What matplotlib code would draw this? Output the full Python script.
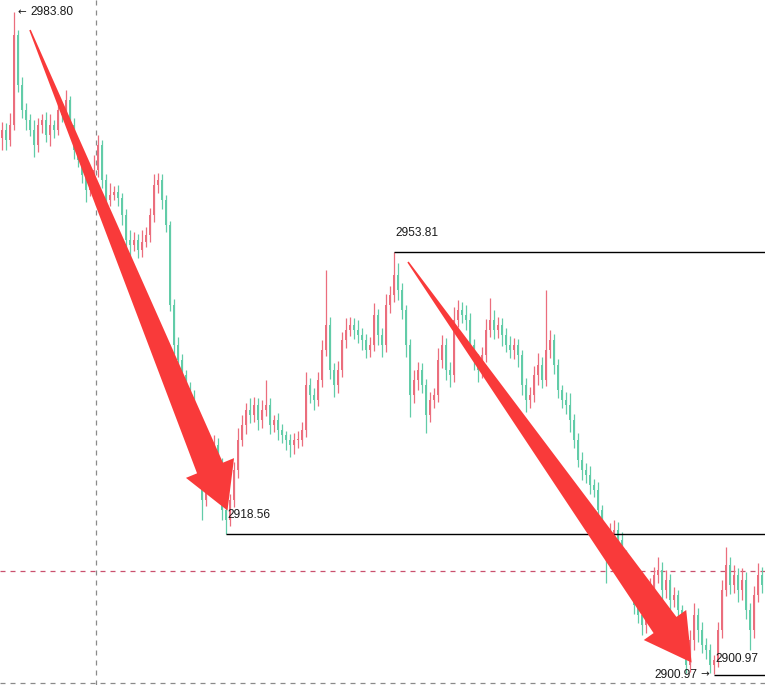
import numpy as np
import matplotlib
matplotlib.use("Agg")
import matplotlib.pyplot as plt
from matplotlib.patches import Polygon
from matplotlib.transforms import Affine2D

# close prices, one per candle (left to right)
closes = [
    2969.1, 2967.8, 2969.7, 2980.9, 2974.7, 2971.6, 2970.3, 2969.1, 2967.2, 2969.7,
    2970.3, 2968.4, 2969.7, 2969.1, 2971.6, 2970.9, 2972.8, 2969.7, 2966.6, 2965.3,
    2963.4, 2961.6, 2962.2, 2964.1, 2967.2, 2962.8, 2960.3, 2960.9, 2961.3, 2960.6,
    2958.4, 2955.3, 2954.7, 2955.3, 2954.1, 2955.1, 2955.9, 2958.4, 2962.2, 2962.8,
    2960.3, 2957.2, 2947.2, 2942.2, 2940.3, 2938.4, 2936.6, 2935.3, 2932.8, 2930.3,
    2922.8, 2925.3, 2927.8, 2929.7, 2927.2, 2921.6, 2920.3, 2922.8, 2926.6, 2930.3,
    2932.2, 2934.1, 2933.4, 2934.7, 2932.8, 2934.1, 2934.7, 2932.2, 2932.8, 2931.6,
    2930.9, 2930.3, 2929.7, 2930.3, 2930.3, 2931.6, 2937.2, 2935.9, 2935.3, 2937.8,
    2941.6, 2944.7, 2939.1, 2937.2, 2939.1, 2942.8, 2944.1, 2944.7, 2944.1, 2943.4,
    2942.8, 2941.6, 2942.2, 2945.9, 2943.4, 2942.2, 2947.2, 2948.4, 2950.9, 2949.1,
    2946.6, 2942.2, 2935.9, 2937.8, 2939.1, 2937.2, 2933.4, 2935.3, 2935.9, 2940.3,
    2942.2, 2939.1, 2938.4, 2945.3, 2946.6, 2945.9, 2945.3, 2942.2, 2940.3, 2939.1,
    2940.9, 2944.1, 2945.3, 2944.1, 2944.7, 2943.4, 2942.2, 2941.6, 2942.2, 2940.9,
    2937.2, 2935.3, 2935.9, 2938.4, 2939.7, 2937.8, 2941.6, 2942.8, 2939.7, 2936.6,
    2935.3, 2934.7, 2932.8, 2930.3, 2927.8, 2926.6, 2925.9, 2924.7, 2924.1, 2921.6,
    2917.2, 2915.3, 2918.4, 2919.1, 2917.8, 2915.9, 2913.4, 2911.6, 2909.7, 2908.4,
    2907.2, 2909.7, 2911.6, 2913.4, 2914.1, 2911.6, 2912.8, 2910.3, 2910.9, 2909.1,
    2905.3, 2902.2, 2905.3, 2908.4, 2906.6, 2904.7, 2904.1, 2902.2, 2902.8, 2906.6,
    2911.6, 2914.7, 2912.2, 2913.4, 2911.6, 2912.8, 2909.1, 2906.6, 2910.9, 2913.4,
    2912.2,
]
first_open = 2968.0

# wick lengths above / below the body
upper_wick = [
    1.0, 0.8, 1.5, 2.9, 0.6, 1.0, 0.8, 0.7, 1.2, 0.9,
    0.8, 1.0, 1.4, 0.6, 1.5, 0.7, 1.2, 0.5, 0.8, 0.6,
    0.9, 0.7, 1.0, 1.8, 1.2, 0.6, 0.8, 1.5, 0.7, 0.9,
    0.6, 0.8, 1.2, 1.0, 0.7, 1.4, 1.0, 0.9, 1.3, 0.9,
    0.8, 0.6, 0.5, 0.7, 1.0, 0.8, 0.6, 0.9, 1.2, 0.8,
    0.6, 1.0, 1.5, 1.2, 0.8, 0.9, 0.5, 0.8, 1.0, 1.5,
    1.2, 0.8, 1.5, 1.0, 0.9, 1.2, 3.1, 0.8, 0.6, 0.9,
    0.7, 0.5, 0.8, 0.9, 1.1, 1.0, 1.6, 0.8, 0.9, 1.0,
    1.2, 6.9, 1.0, 0.8, 1.1, 1.0, 1.4, 1.0, 0.8, 1.2,
    0.9, 0.7, 1.0, 1.5, 0.8, 0.9, 1.3, 1.2, 2.9, 1.5,
    0.8, 0.6, 0.7, 1.2, 1.0, 0.8, 0.7, 1.0, 0.9, 1.5,
    1.2, 0.8, 0.9, 1.6, 1.2, 1.0, 1.3, 0.9, 0.7, 0.8,
    1.0, 1.3, 2.7, 1.2, 1.0, 0.8, 0.9, 1.1, 0.8, 0.7,
    0.6, 0.8, 1.0, 1.2, 1.5, 1.0, 7.5, 1.2, 0.8, 0.7,
    0.6, 1.0, 1.5, 0.8, 0.9, 1.0, 0.8, 1.2, 0.7, 0.9,
    0.6, 0.8, 1.5, 1.2, 0.9, 1.0, 0.7, 0.8, 1.0, 0.6,
    0.8, 1.2, 1.5, 1.0, 1.6, 0.9, 1.2, 0.8, 1.0, 0.7,
    0.6, 0.8, 1.2, 1.5, 0.9, 1.0, 0.8, 0.7, 0.6, 1.0,
    1.2, 2.2, 1.0, 1.3, 0.9, 1.5, 1.0, 0.8, 1.2, 1.5,
    1.0,
]
lower_wick = [
    1.5, 1.2, 0.8, 0.6, 0.9, 1.0, 1.2, 0.8, 1.5, 0.9,
    1.0, 0.8, 1.3, 1.0, 0.7, 0.9, 0.8, 1.0, 1.2, 0.9,
    1.0, 1.5, 0.8, 0.7, 0.9, 1.0, 1.4, 0.8, 0.6, 1.0,
    1.2, 1.0, 1.5, 0.8, 1.0, 0.9, 0.7, 0.8, 0.9, 1.0,
    1.1, 0.9, 0.8, 1.2, 1.0, 0.9, 1.3, 1.0, 1.5, 1.2,
    2.5, 0.8, 0.9, 1.0, 1.2, 1.3, 1.7, 0.8, 0.9, 1.0,
    0.8, 1.2, 1.0, 0.9, 1.2, 1.0, 0.8, 1.1, 0.9, 1.3,
    1.0, 1.2, 1.5, 1.1, 1.0, 0.8, 0.9, 1.0, 1.3, 0.8,
    0.9, 0.8, 1.2, 1.5, 1.0, 0.9, 1.0, 0.8, 1.2, 1.0,
    1.3, 1.0, 0.9, 0.8, 1.2, 1.5, 0.9, 1.0, 0.8, 1.3,
    1.2, 1.5, 2.7, 1.0, 1.2, 1.0, 2.2, 0.9, 1.0, 0.8,
    1.0, 1.3, 1.5, 0.8, 0.9, 1.0, 1.2, 1.0, 1.3, 1.5,
    1.0, 0.8, 0.9, 1.2, 1.0, 1.3, 0.9, 1.0, 1.2, 1.5,
    1.3, 1.5, 1.0, 0.9, 1.2, 1.0, 0.8, 1.0, 1.2, 1.1,
    1.0, 1.2, 1.5, 1.0, 0.9, 1.3, 1.0, 1.2, 0.9, 1.5,
    1.2, 2.9, 1.0, 0.9, 1.2, 1.5, 1.0, 0.8, 1.2, 1.0,
    1.3, 1.0, 0.9, 1.2, 1.0, 1.5, 1.0, 1.2, 0.9, 1.3,
    1.2, 1.0, 0.9, 1.2, 1.5, 1.0, 1.2, 1.0, 1.2, 0.9,
    1.0, 0.8, 1.2, 1.0, 1.5, 1.3, 1.2, 2.5, 1.0, 0.9,
    1.0,
]

# marked levels: (price, candle index where the line starts)
high_mark = (2983.80, 3)
levels = [(2953.81, 98), (2918.56, 56), (2900.97, 178)]
red_dash_price = 2913.9
bottom_dash_price = 2899.9
vdash_index = 23.5

UP = "#eb6e7d"
DOWN = "#62cca8"
ARROW = "#f93a3a"

W, H = 765, 685
fig = plt.figure(figsize=(W / 100, H / 100), dpi=100)
ax = fig.add_axes([0, 0, 1, 1])
ax.set_axis_off()
plt.rcParams["lines.scale_dashes"] = False

closes = np.array(closes)
opens = np.concatenate([[first_open], closes[:-1]])
tops = np.maximum(opens, closes)
bots = np.minimum(opens, closes)
highs = tops + np.array(upper_wick)
lows = bots - np.array(lower_wick)
idx = np.arange(len(closes))
cols = [UP if c >= o else DOWN for o, c in zip(opens, closes)]

ax.vlines(idx, lows, highs, colors=cols, lw=0.9, zorder=2)
ax.bar(idx, np.maximum(tops - bots, 0.15), bottom=bots, width=0.5,
       color=cols, linewidth=0, zorder=2)

ax.set_xlim(-0.5, -0.5 + W / 4)
ax.set_ylim(2985.3 - H / 8, 2985.3)

# dashed guide lines
ax.axhline(red_dash_price, color="#c9506e", lw=0.9, dashes=(3.6, 3.6), zorder=1)
ax.axhline(bottom_dash_price, color="#8a8a8a", lw=0.9, dashes=(3.6, 3.6), zorder=1)
ax.axvline(vdash_index, color="#8a8a8a", lw=0.9, dashes=(3.6, 3.6), zorder=1)

font = dict(family="Liberation Sans", fontsize=8.6, color="#1a1a1a", zorder=6)
arrfont = dict(family="DejaVu Sans", fontsize=7.5, color="#1a1a1a", zorder=6)

for price, start in levels:
    ax.hlines(price, start, idx[-1] + 5, color="black", lw=1.0, zorder=3)

hp = (high_mark[1], high_mark[0])
ax.annotate("\u2190", hp, xytext=(2.5, 0), textcoords="offset points",
            va="center", ha="left", **arrfont)
ax.annotate("%.2f" % high_mark[0], hp, xytext=(11.5, 0), textcoords="offset points",
            va="center", ha="left", **font)

for (price, start), dy in zip(levels, [9, 9, 7]):
    ax.annotate("%.2f" % price, (start, price), xytext=(1, dy),
                textcoords="offset points", va="bottom", ha="left", **font)

lp = (levels[2][1], levels[2][0])
ax.annotate("\u2192", lp, xytext=(-3.5, 0), textcoords="offset points",
            va="center", ha="right", **arrfont)
ax.annotate("%.2f" % levels[2][0], lp, xytext=(-12, 0), textcoords="offset points",
            va="center", ha="right", **font)

# the two drawn red arrows, in pixel space (y down)
pix = Affine2D().scale(1 / W, -1 / H).translate(0, 1) + fig.transFigure


def arrow_poly(tail, base, shaft_w, head_w, head_len):
    tail = np.array(tail, float)
    base = np.array(base, float)
    d = base - tail
    d = d / np.hypot(*d)
    n = np.array([-d[1], d[0]])
    tip = base + d * head_len
    pts = [tail + n * 0.8,
           base + n * shaft_w / 2,
           base + n * head_w / 2,
           tip,
           base - n * head_w / 2,
           base - n * shaft_w / 2,
           tail - n * 0.8]
    return np.array(pts)


for tail, base in [((30, 30), (210, 468)), ((408, 262), (665, 625))]:
    poly = Polygon(arrow_poly(tail, base, 28, 52, 46), closed=True,
                   facecolor=ARROW, edgecolor="none", transform=pix, zorder=5)
    ax.add_patch(poly)

fig.savefig("out.png", dpi=100)
